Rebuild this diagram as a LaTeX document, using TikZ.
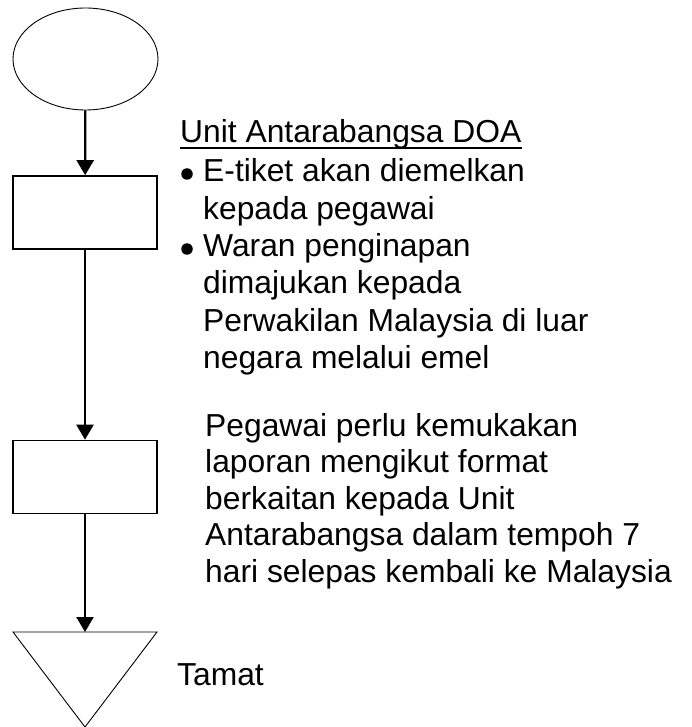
\documentclass[tikz,border=0pt]{standalone}
\usepackage{fontspec}
\setmainfont{Liberation Sans}
\usetikzlibrary{arrows.meta, shapes.geometric}

\newcommand{\flowfont}{\fontsize{31.8}{37.5}\selectfont}

\begin{document}
\begin{tikzpicture}[x=1pt, y=-1pt,
    start/.style={
        ellipse,
        draw,
        line width=0.9pt,
        minimum width=145pt,
        minimum height=102pt,
        inner sep=0pt
      },
    stepbox/.style={
        draw,
        line width=1.6pt,
        minimum width=144pt,
        minimum height=73pt,
        inner sep=0pt
      },
    endtri/.style={
        isosceles triangle,
        isosceles triangle stretches,
        shape border rotate=270,
        draw,
        line width=0.9pt,
        minimum width=144pt,
        minimum height=95pt,
        inner sep=0pt,
        outer sep=0pt
      },
    dot/.style={circle, fill, inner sep=0pt, minimum size=11.5pt},
    arr/.style={-{Triangle[length=15pt, width=17pt]}, line width=2.2pt},
    txt/.style={anchor=base west, inner sep=0pt, font=\flowfont},
    uline/.style={line width=1.8pt}
  ]
  \useasboundingbox (0,0) rectangle (691,727);

  \node[start] (mula) at (85.5,59) {};
  \node[stepbox] (tiket) at (85,212.5) {};
  \node[stepbox] (laporan) at (85,477) {};
  \node[endtri, anchor=north] (tamat) at (85,632) {};

  \draw[arr] (mula) -- (tiket);
  \draw[arr] (tiket) -- (laporan);
  \draw[arr] (laporan) -- (tamat.north);

  % Unit Antarabangsa DOA
  \node[txt] (doa) at (180,143) {Unit Antarabangsa DOA};
  \draw[uline] ([yshift=-5pt]doa.base west) -- ([yshift=-5pt]doa.base east);
  \node[dot] (bulA) at (187,174) {};
  \node[dot] (bulB) at (187,249) {};
  \foreach \ln [count=\i from 0] in {E-tiket akan diemelkan, kepada pegawai,
      Waran penginapan, dimajukan kepada, Perwakilan Malaysia di luar,
      negara melalui emel}
    \node[txt] (doa\i) at (203,182+37.3*\i) {\ln};

  % laporan
  \foreach \ln [count=\i from 0] in {Pegawai perlu kemukakan,
      laporan mengikut format, berkaitan kepada Unit,
      Antarabangsa dalam tempoh 7, hari selepas kembali ke Malaysia}
    \node[txt] (lap\i) at (205,436+36.5*\i) {\ln};

  \node[txt] (tamatText) at (177,685) {Tamat};
\end{tikzpicture}
\end{document}
